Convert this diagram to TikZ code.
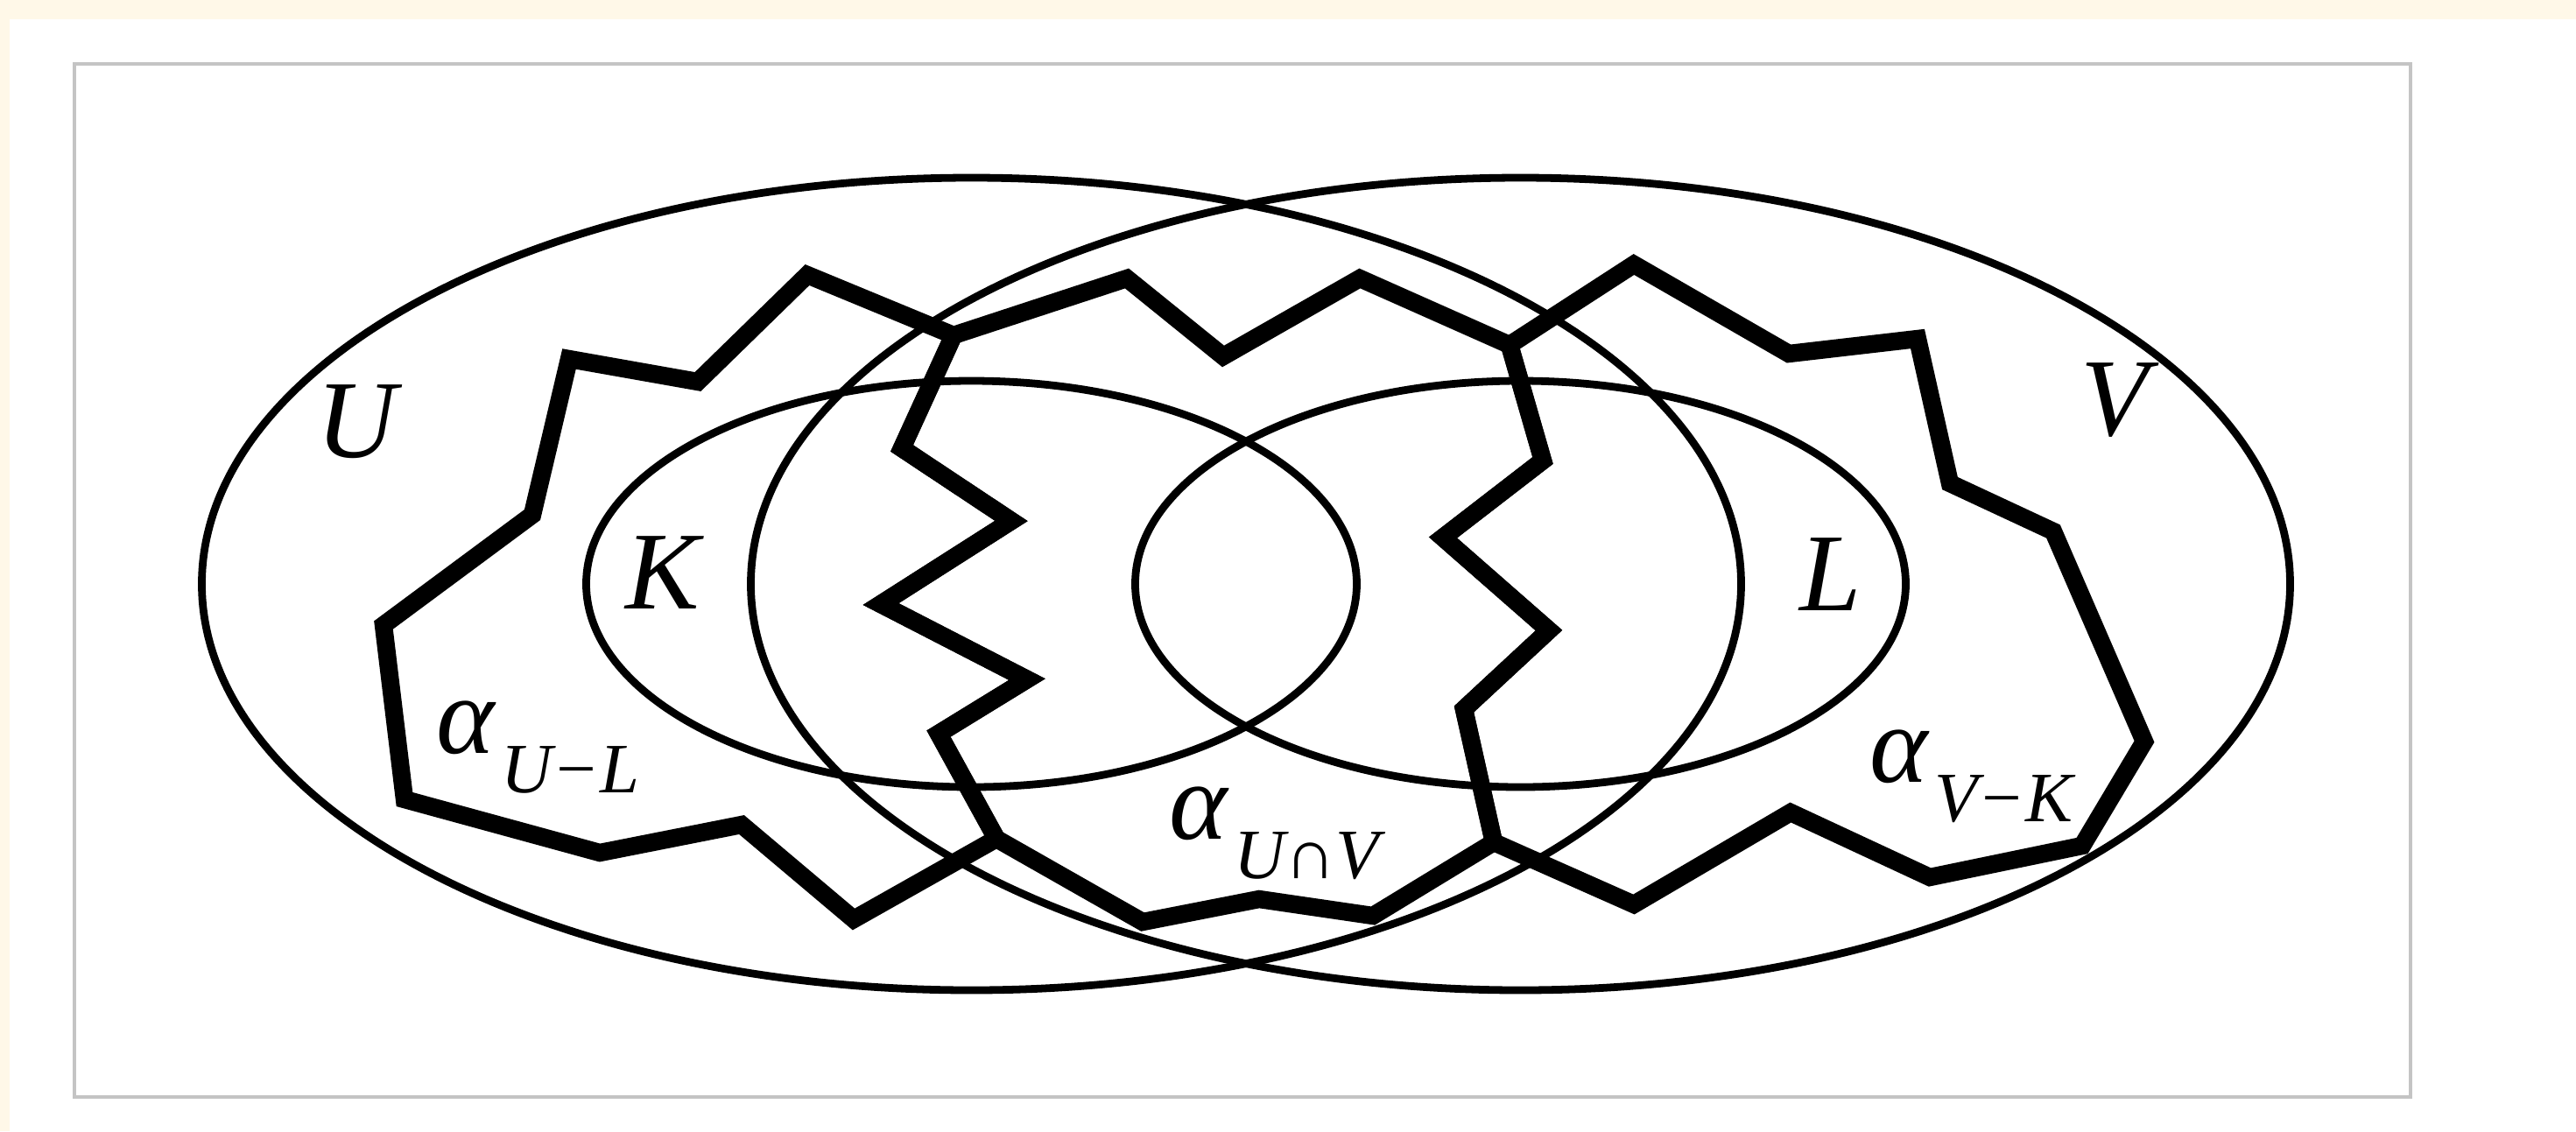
\documentclass[tikz,border=0pt]{standalone}
\usepackage{fontspec}
\setmainfont{Liberation Serif}
\usepackage{tikz}
\definecolor{pageCream}{HTML}{FFF8E8}
\definecolor{frameGrey}{HTML}{C4C4C4}
\tikzset{
  region/.style={line width=2.5pt, black},
  chain/.style={line width=5.8pt, black, line join=miter},
  frm/.style={line width=1.4pt, frameGrey},
  lbl/.style={font=\fontsize{36}{40}\selectfont\itshape, inner sep=0pt},
}
\newcommand{\alphasub}[1]{α\kern2pt\raisebox{-13pt}{\fontsize{23}{26}\selectfont #1}}

\begin{document}
\begin{tikzpicture}
  \useasboundingbox (-14.23,-6.25) rectangle (15.19,6.67);
  \fill[pageCream] (-14.23,-6.25) rectangle (15.19,6.67);
  \fill[white] (-14.12,-6.25) rectangle (15.19,6.45);
  \draw[frm] (-13.38,-5.86) rectangle (13.30,5.94);

  \draw[region] (-3.135,0) ellipse (8.79 and 4.64);
  \draw[region] (3.135,0) ellipse (8.79 and 4.64);
  \draw[region] (-3.135,0) ellipse (4.40 and 2.32);
  \draw[region] (3.135,0) ellipse (4.40 and 2.32);

  \coordinate (ja) at (-3.34,2.84);
  \coordinate (jb) at (-2.85,-2.91);
  \coordinate (jc) at (3.01,2.73);
  \coordinate (jd) at (2.83,-2.95);
  \coordinate (l1) at (-3.93,1.55);
  \coordinate (l2) at (-2.68,0.72);
  \coordinate (l3) at (-4.17,-0.23);
  \coordinate (l4) at (-2.50,-1.09);
  \coordinate (l5) at (-3.51,-1.71);
  \coordinate (r1) at (3.39,1.41);
  \coordinate (r2) at (2.25,0.53);
  \coordinate (r3) at (3.46,-0.53);
  \coordinate (r4) at (2.49,-1.43);

  \draw[chain] (ja) -- (-5.01,3.53) -- (-6.26,2.31) -- (-7.73,2.57) -- (-8.15,0.79)
    -- (-9.85,-0.47) -- (-9.61,-2.46) -- (-7.38,-3.07) -- (-5.76,-2.75) -- (-4.48,-3.83)
    -- (jb) -- (l5) -- (l4) -- (l3) -- (l2) -- (l1) -- cycle;
  \draw[chain] (ja) -- (-1.36,3.49) -- (-0.26,2.60) -- (1.30,3.49) -- (jc)
    -- (r1) -- (r2) -- (r3) -- (r4) -- (jd)
    -- (1.45,-3.79) -- (0.15,-3.60) -- (-1.18,-3.86) -- (jb)
    -- (l5) -- (l4) -- (l3) -- (l2) -- (l1) -- cycle;
  \draw[chain] (jc) -- (4.43,3.65) -- (6.20,2.63) -- (7.67,2.80) -- (8.04,1.15)
    -- (9.22,0.60) -- (10.26,-1.80) -- (9.55,-2.99) -- (7.81,-3.35) -- (6.22,-2.61)
    -- (4.43,-3.66) -- (jd) -- (r4) -- (r3) -- (r2) -- (r1) -- cycle;

  \node[lbl, anchor=base] (labU) at (-10.16,1.45) {U};
  \node[lbl, anchor=base] (labV) at (9.92,1.70) {V};
  \node[lbl, anchor=base] (labK) at (-6.66,-0.28) {K};
  \node[lbl, anchor=base] (labL) at (6.68,-0.30) {L};
  \node[lbl, anchor=base west] (labUL) at (-9.25,-1.93) {\alphasub{U−L}};
  \node[lbl, anchor=base west] (labUV) at (-0.88,-2.91) {\alphasub{U∩V}};
  \node[lbl, anchor=base west] (labVK) at (7.12,-2.26) {\alphasub{V−K}};
\end{tikzpicture}
\end{document}
